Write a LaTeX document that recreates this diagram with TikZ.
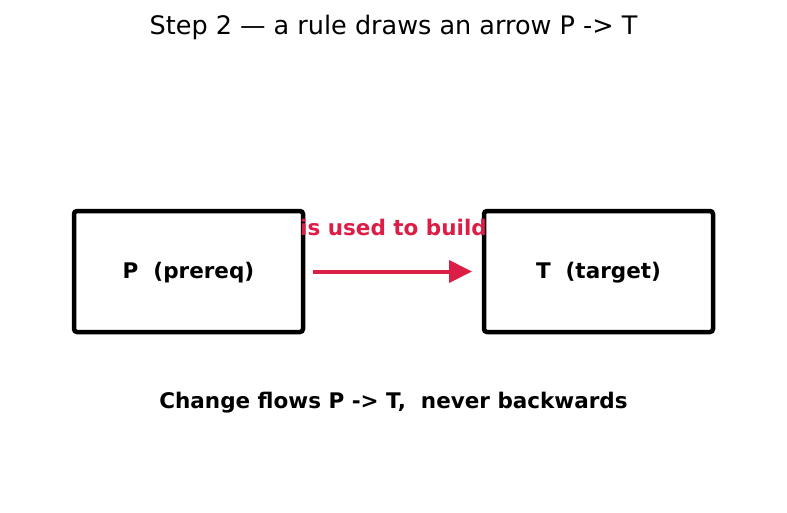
\documentclass[tikz,border=0pt]{standalone}
\usepackage{fontspec}
\setmainfont{DejaVu Sans}
\usetikzlibrary{arrows.meta}
\definecolor{linkred}{RGB}{220,30,70}
\tikzset{
  stepbox/.style={draw,line width=4.5pt,rounded corners=3pt,minimum width=229pt,
    minimum height=121pt,outer sep=0pt,inner sep=0pt,font=\fontsize{21.5}{25}\selectfont\bfseries},
  linkarrow/.style={linkred,line width=4pt,-{Triangle[length=23pt,width=22pt]}},
  linklabel/.style={text=linkred,font=\fontsize{21.5}{25}\selectfont\bfseries},
  notetext/.style={font=\fontsize{21.5}{25}\selectfont\bfseries}
}
\begin{document}
\begin{tikzpicture}[x=1pt,y=-1pt]
  \useasboundingbox (0,0) rectangle (787,512);
  \node[font=\fontsize{25.5}{30}\selectfont] (title) at (393.5,27) {Step 2 — a rule draws an arrow P -> T};
  % the two boxes
  \node[stepbox] (P) at (188.5,271.5) {\raisebox{-1.5pt}[\height][\depth]{P~~(prereq)}};
  \node[stepbox] (T) at (598.5,271.5) {\raisebox{-1.5pt}[\height][\depth]{T~~(target)}};
  % the rule
  \draw[linkarrow,shorten <=9.5pt,shorten >=12pt] (P) -- (T)
    node[midway,yshift=44pt,linklabel] (rule) {is used to build};
  \node[notetext] (note) at (393.5,402.5) {Change flows P -> T,~~never backwards};
\end{tikzpicture}
\end{document}
